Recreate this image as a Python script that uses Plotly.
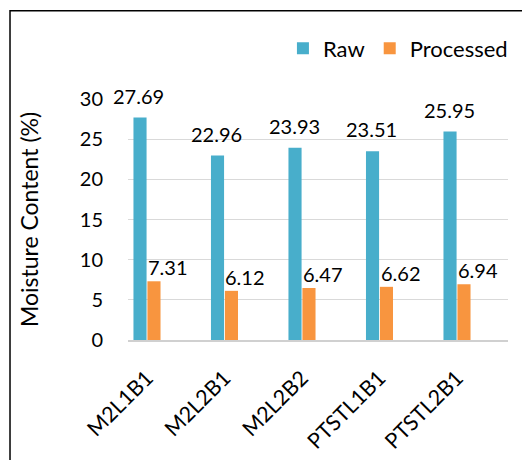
import plotly.graph_objects as go

categories = ["M2L1B1", "M2L2B1", "M2L2B2", "PTSTL1B1", "PTSTL2B1"]
raw = [27.69, 22.96, 23.93, 23.51, 25.95]
processed = [7.31, 6.12, 6.47, 6.62, 6.94]
y_ticks = [0, 5, 10, 15, 20, 25, 30]

FONT = "Lato"
FS = 20
RAW_C = "#48aecb"
PRO_C = "#f8953f"

fig = go.Figure()
fig.add_trace(go.Bar(name="Raw", x=categories, y=raw, marker=dict(color=RAW_C, line=dict(width=0))))
fig.add_trace(go.Bar(name="Processed", x=categories, y=processed, marker=dict(color=PRO_C, line=dict(width=0))))

ann = []
for c, v in zip(categories, raw):
    ann.append(dict(x=c, y=v, text=f"{v:.2f}", showarrow=False, xshift=-8, yshift=22,
                    yanchor="middle", font=dict(family=FONT, size=FS, color="#000")))
for c, v in zip(categories, processed):
    ann.append(dict(x=c, y=v, text=f"{v:.2f}", showarrow=False, xshift=21, yshift=14,
                    yanchor="middle", font=dict(family=FONT, size=FS, color="#000")))

fig.update_layout(
    width=530, height=460,
    margin=dict(l=120, r=30, t=91, b=128, autoexpand=False),
    paper_bgcolor="white", plot_bgcolor="white",
    barmode="group", bargap=0.64, bargroupgap=0.06,
    font=dict(family=FONT, size=FS, color="#000"),
    showlegend=True,
    legend=dict(orientation="h", x=1.013, xanchor="right", y=1.21, yanchor="middle",
                font=dict(family=FONT, size=22, color="#000"), itemwidth=30,
                traceorder="normal", bgcolor="rgba(0,0,0,0)"),
    annotations=ann,
    shapes=[dict(type="rect", xref="paper", yref="paper", x0=-0.3105, x1=1.2, y0=-0.6, y1=1.366,
                 line=dict(color="#000", width=1.5), fillcolor="rgba(0,0,0,0)", layer="above")],
)
fig.update_xaxes(type="category", range=[-0.245, 4.658], tickangle=-45, showgrid=False,
                 showline=True, linecolor="#d0d0d0", linewidth=2, ticks="", automargin=False,
                 ticklabelstandoff=15,
                 tickfont=dict(family=FONT, size=21.5, color="#000"))
fig.update_yaxes(range=[0, 30], tickvals=y_ticks, showgrid=True, gridcolor="#d9d9d9", gridwidth=1,
                 zeroline=False, showline=False, ticks="", ticklabelstandoff=24, automargin=False,
                 title=dict(text="Moisture Content (%)", standoff=34, font=dict(family=FONT, size=23, color="#000")),
                 tickfont=dict(family=FONT, size=20, color="#000"))

fig.write_html("out.html")
